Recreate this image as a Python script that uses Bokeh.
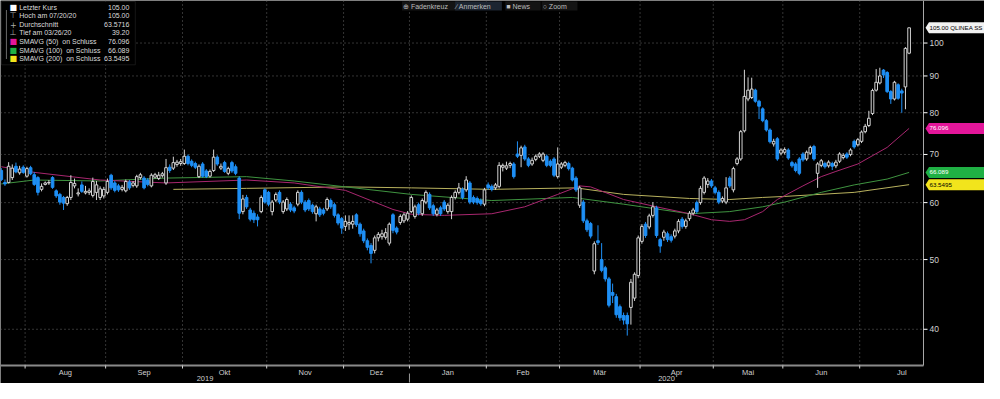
import math
import pandas as pd
from bokeh.plotting import figure
from bokeh.models import Range1d, Label, BoxAnnotation, ColumnDataSource
from bokeh.core.properties import value
from bokeh.embed import file_html
from bokeh.resources import INLINE

# ---------------- data ----------------
first_day = "2019-07-23"
calendar_end = "2020-07-31"
holidays = ["2019-12-24", "2019-12-25", "2019-12-26", "2019-12-31", "2020-01-01", "2020-01-06",
            "2020-04-10", "2020-04-13", "2020-05-01", "2020-05-21", "2020-06-19"]

opens = [66.5, 64.0, 64.0, 65.0, 67.4, 66.0, 67.2, 65.3, 67.1, 65.6,
         65.0, 62.6, 63.6, 63.9, 65.0, 62.3, 61.6, 61.0, 59.8, 61.0,
         63.3, 61.7, 63.5, 61.9, 62.0, 61.4, 62.0, 61.0, 61.3, 62.0,
         65.5, 63.9, 63.3, 62.6, 62.3, 64.1, 63.4, 63.3, 65.0, 64.9,
         64.5, 63.3, 65.1, 64.8, 65.4, 63.9, 67.2, 67.0, 67.8, 68.0,
         68.0, 69.6, 68.5, 68.0, 65.2, 67.9, 66.4, 65.3, 66.5, 69.4,
         67.0, 68.2, 65.9, 68.2, 67.3, 64.9, 58.3, 61.0, 58.6, 58.0,
         57.3, 58.3, 62.5, 62.0, 58.3, 60.5, 62.0, 58.3, 58.8, 59.7,
         59.0, 59.7, 62.0, 60.1, 60.4, 59.5, 57.9, 58.8, 58.6, 58.8,
         60.4, 59.6, 57.7, 57.0, 55.6, 56.0, 56.0, 57.7, 56.0, 54.8,
         53.1, 52.3, 51.5, 53.6, 53.8, 53.7, 52.7, 57.7, 55.3, 56.3,
         56.6, 56.9, 58.3, 57.4, 59.6, 57.9, 60.1, 61.6, 59.4, 57.8,
         59.0, 60.1, 58.3, 58.3, 61.0, 62.0, 62.6, 62.5, 63.9, 61.0,
         60.8, 60.4, 59.7, 63.5, 63.2, 62.9, 63.2, 67.2, 67.0, 67.6,
         67.9, 70.1, 69.8, 71.7, 69.0, 67.9, 68.9, 69.6, 68.7, 69.6,
         68.5, 69.0, 65.2, 67.2, 67.6, 68.0, 67.0, 64.9, 59.5, 60.1,
         56.6, 56.1, 48.2, 53.1, 50.0, 48.7, 47.0, 45.0, 44.4, 43.0,
         41.8, 41.8, 42.9, 44.2, 47.5, 53.0, 56.0, 55.5, 57.6, 59.0,
         53.3, 53.7, 54.3, 53.8, 53.9, 54.8, 56.9, 55.6, 57.0, 58.0,
         60.0, 60.0, 62.0, 63.6, 64.3, 62.9, 62.0, 60.3, 60.1, 64.9,
         62.5, 68.0, 69.0, 75.5, 83.6, 84.0, 86.0, 83.0, 81.0, 78.0,
         75.7, 72.4, 73.6, 70.3, 70.5, 71.0, 68.2, 67.9, 69.0, 70.1,
         69.0, 70.3, 71.8, 65.9, 67.6, 68.0, 67.5, 68.0, 67.5, 68.5,
         69.3, 70.1, 70.0, 73.0, 72.2, 73.0, 75.3, 76.8, 79.8, 86.0,
         88.0, 91.7, 91.0, 85.6, 83.6, 87.5, 85.8, 86.9, 96.8]

highs = [67.0, 64.6, 68.3, 67.8, 68.2, 67.5, 67.6, 67.3, 67.5, 66.2,
         65.3, 63.8, 64.2, 64.5, 65.3, 62.6, 61.9, 61.3, 61.3, 65.5,
         64.8, 62.8, 64.2, 63.3, 62.8, 65.0, 64.3, 63.2, 63.1, 64.8,
         65.8, 64.3, 63.7, 63.5, 64.6, 64.5, 64.3, 65.6, 66.0, 65.3,
         64.9, 65.9, 66.0, 66.2, 66.2, 69.0, 67.8, 69.5, 68.8, 69.0,
         71.1, 70.0, 68.9, 68.4, 67.8, 68.3, 66.8, 66.7, 71.1, 69.8,
         68.0, 68.6, 67.3, 68.6, 67.8, 65.3, 61.5, 61.5, 59.0, 58.5,
         57.8, 61.4, 62.8, 62.3, 60.5, 62.0, 62.4, 60.5, 61.0, 60.1,
         59.4, 62.4, 62.4, 60.5, 60.8, 59.8, 59.6, 59.2, 59.0, 61.0,
         60.8, 60.0, 58.0, 57.3, 57.6, 57.6, 57.6, 58.0, 56.3, 55.2,
         53.5, 52.7, 54.0, 54.6, 55.0, 55.3, 56.3, 58.0, 55.6, 57.8,
         58.1, 58.4, 61.4, 59.6, 60.0, 60.8, 62.4, 62.0, 59.8, 59.0,
         59.4, 60.5, 59.9, 61.4, 62.4, 63.9, 63.0, 65.3, 64.3, 61.4,
         61.2, 60.8, 62.9, 64.0, 63.6, 63.9, 68.3, 68.0, 68.4, 68.4,
         68.3, 73.0, 72.0, 72.2, 69.4, 69.3, 70.0, 70.5, 70.5, 70.0,
         68.9, 69.4, 71.6, 68.3, 68.6, 68.4, 67.3, 65.3, 63.3, 60.5,
         57.0, 56.4, 53.0, 55.8, 52.7, 49.0, 47.3, 46.3, 44.8, 43.3,
         42.2, 42.2, 47.0, 48.0, 54.0, 56.0, 56.4, 57.9, 60.1, 59.4,
         53.6, 55.0, 54.7, 54.2, 55.2, 56.9, 57.3, 57.0, 58.4, 59.0,
         60.4, 63.3, 65.3, 64.9, 64.7, 63.3, 62.4, 61.2, 65.1, 65.3,
         67.3, 69.4, 75.7, 91.8, 89.6, 89.5, 86.4, 83.4, 81.4, 78.4,
         76.1, 73.6, 74.0, 71.4, 71.6, 71.4, 68.6, 68.3, 69.4, 70.5,
         70.9, 72.0, 72.2, 68.3, 69.0, 68.4, 68.7, 68.4, 68.8, 70.5,
         70.3, 70.5, 71.4, 73.4, 73.8, 75.6, 77.2, 80.5, 86.4, 92.0,
         92.4, 92.0, 91.4, 86.0, 88.6, 87.9, 86.4, 98.7, 105.0]

lows = [64.3, 63.3, 63.8, 64.5, 65.9, 65.6, 65.8, 65.0, 65.5, 63.3,
        61.4, 62.2, 63.4, 63.5, 62.7, 60.9, 59.6, 58.6, 59.4, 60.5,
        62.8, 61.2, 61.9, 61.6, 61.5, 61.0, 60.5, 60.5, 60.8, 61.6,
        62.5, 62.0, 62.1, 62.2, 62.0, 62.5, 63.0, 62.9, 64.6, 62.6,
        63.2, 63.0, 64.8, 64.5, 65.0, 63.5, 66.0, 66.6, 67.3, 67.5,
        67.7, 67.6, 67.2, 66.8, 64.9, 65.0, 64.9, 65.0, 66.2, 67.5,
        66.6, 66.0, 65.5, 66.0, 65.5, 56.9, 57.8, 58.8, 56.5, 56.2,
        55.6, 58.0, 59.8, 59.3, 57.6, 60.1, 59.7, 57.9, 58.4, 58.2,
        58.0, 59.3, 59.7, 58.2, 58.4, 57.9, 56.5, 57.3, 57.6, 58.4,
        58.8, 57.2, 55.8, 54.3, 54.8, 55.0, 55.2, 55.5, 53.8, 52.7,
        51.5, 49.4, 51.0, 53.0, 53.3, 53.3, 52.3, 54.4, 54.2, 55.9,
        56.2, 56.5, 58.0, 57.0, 57.6, 57.5, 59.7, 58.6, 57.5, 57.4,
        57.5, 58.4, 57.9, 56.9, 60.6, 61.6, 60.6, 62.1, 59.7, 59.7,
        59.6, 59.4, 59.3, 62.5, 62.2, 62.5, 62.8, 66.3, 66.6, 67.0,
        64.8, 69.2, 67.2, 68.6, 67.2, 67.5, 68.5, 69.2, 68.3, 67.2,
        67.2, 65.1, 64.8, 66.8, 67.2, 66.5, 64.2, 62.1, 59.0, 56.2,
        54.6, 53.5, 47.7, 52.4, 48.0, 46.6, 42.9, 43.5, 41.5, 41.1,
        40.6, 39.2, 40.6, 43.8, 47.1, 52.6, 53.6, 55.1, 57.2, 53.6,
        51.1, 53.1, 52.9, 52.8, 53.5, 54.4, 55.2, 55.2, 56.6, 57.6,
        57.9, 59.6, 61.6, 62.9, 62.9, 61.6, 59.7, 59.9, 59.7, 62.9,
        62.0, 67.6, 68.6, 75.1, 83.0, 83.6, 82.6, 78.4, 77.6, 75.3,
        72.5, 71.8, 68.6, 69.8, 70.0, 68.8, 67.1, 66.1, 65.5, 68.4,
        68.6, 69.9, 68.6, 62.9, 67.2, 66.9, 67.1, 66.6, 67.0, 68.1,
        68.9, 69.0, 69.6, 71.3, 71.8, 72.6, 74.9, 76.4, 79.4, 85.6,
        87.6, 89.4, 85.2, 82.3, 83.2, 83.4, 80.0, 80.9, 96.5]

closes = [64.6, 63.7, 67.4, 67.0, 66.2, 66.8, 66.1, 66.9, 65.8, 63.6,
          62.0, 63.2, 63.9, 64.0, 63.0, 61.3, 60.1, 59.9, 61.0, 64.0,
          63.8, 61.9, 62.2, 62.2, 62.3, 64.2, 63.5, 62.7, 62.6, 64.2,
          62.9, 62.4, 62.5, 63.0, 64.2, 62.9, 63.9, 65.2, 65.6, 62.9,
          63.6, 65.5, 65.6, 65.5, 65.8, 67.1, 66.5, 68.2, 68.3, 68.4,
          69.6, 68.0, 67.6, 67.2, 67.4, 65.3, 65.2, 66.3, 69.4, 67.9,
          67.4, 66.3, 66.9, 66.4, 65.9, 58.0, 60.7, 59.2, 56.9, 56.8,
          56.8, 61.0, 60.1, 59.7, 60.1, 61.6, 60.1, 60.1, 60.6, 58.6,
          58.4, 62.0, 60.1, 58.6, 58.8, 58.3, 59.2, 57.7, 58.0, 60.6,
          59.2, 57.6, 56.2, 55.3, 56.5, 56.3, 56.5, 55.9, 54.3, 53.1,
          52.0, 51.0, 53.6, 54.2, 54.3, 54.5, 56.0, 54.9, 54.6, 57.4,
          57.7, 58.0, 61.0, 59.2, 58.0, 60.4, 62.0, 59.0, 57.9, 58.6,
          57.9, 58.8, 59.5, 61.0, 62.0, 62.9, 61.0, 64.5, 60.1, 60.1,
          60.0, 59.8, 62.5, 62.9, 62.6, 63.5, 67.6, 67.6, 67.5, 68.0,
          65.2, 69.6, 71.5, 69.0, 67.6, 68.7, 69.6, 70.1, 70.1, 67.6,
          67.6, 65.5, 67.9, 67.9, 68.2, 66.9, 64.5, 62.5, 62.9, 56.6,
          55.0, 53.9, 52.6, 52.8, 48.3, 47.0, 43.2, 44.6, 41.9, 41.5,
          41.2, 40.7, 46.5, 47.7, 53.6, 55.6, 54.0, 57.5, 59.2, 54.0,
          52.2, 54.6, 53.3, 53.2, 54.8, 56.5, 55.6, 56.6, 58.0, 58.6,
          58.3, 62.8, 64.9, 64.3, 63.3, 62.0, 60.1, 60.8, 62.9, 63.3,
          66.9, 69.0, 75.3, 84.3, 86.0, 86.3, 83.0, 81.7, 78.0, 75.7,
          72.9, 73.0, 69.0, 71.0, 71.1, 69.2, 67.5, 66.5, 65.9, 68.8,
          70.5, 71.6, 69.0, 67.9, 68.6, 67.3, 68.3, 67.4, 68.3, 70.1,
          69.8, 69.4, 71.0, 71.7, 73.4, 75.2, 76.6, 78.6, 85.9, 88.2,
          90.0, 90.3, 85.6, 83.6, 88.2, 83.8, 85.2, 98.3, 105.0]

# moving averages (trading-day index, value)
sma50_idx = [0, 9, 27, 45, 67, 80, 94, 107, 112, 121, 134, 143, 152, 158, 161, 170, 179,
             188, 194, 199, 203, 208, 212, 219, 224, 228, 234, 242, 248]
sma50_val = [67.3, 66.1, 64.5, 63.9, 64.5, 63.9, 62.4, 58.7, 57.8, 57.6, 57.9, 59.2, 61.6,
             63.3, 63.1, 60.6, 59.2, 57.9, 56.8, 56.5, 56.8, 58.3, 60.6, 63.3, 65.2, 66.3,
             67.9, 71.6, 76.096]
sma100_idx = [0, 9, 27, 45, 67, 80, 94, 112, 134, 156, 170, 188, 199, 208, 214, 224, 233, 242, 248]
sma100_val = [63.7, 64.5, 64.3, 64.9, 65.2, 64.3, 63.1, 61.6, 60.4, 61.0, 59.7, 57.9, 58.3,
              59.2, 60.1, 62.0, 63.5, 64.7, 66.089]
sma200_idx = [47, 67, 94, 112, 134, 157, 170, 188, 199, 208, 214, 233, 248]
sma200_val = [62.6, 62.8, 63.1, 62.9, 62.6, 62.9, 61.6, 60.8, 60.6, 61.0, 61.2, 62.0, 63.5495]

month_names = {1: "Jan", 2: "Feb", 3: "Mär", 4: "Apr", 5: "Mai", 6: "Jun",
               7: "Jul", 8: "Aug", 9: "Sep", 10: "Okt", 11: "Nov", 12: "Dez"}
y_ticks = [40, 50, 60, 70, 80, 90, 100]

ticker_name = "QLINEA SS"
legend_rows = [("Letzter Kurs", "105.00"), ("Hoch am 07/20/20", "105.00"),
               ("Durchschnitt", "63.5716"), ("Tief am 03/26/20", "39.20"),
               ("SMAVG (50)\u00a0 on Schluss", "76.096"),
               ("SMAVG (100)\u00a0 on Schluss", "66.089"),
               ("SMAVG (200)\u00a0 on Schluss", "63.5495")]
toolbar_items = ["⊕ Fadenkreuz", "∕ Anmerken", "■ News", "○ Zoom"]

# ---------------- calendar helpers ----------------
cal = [d for d in pd.bdate_range(first_day, calendar_end) if d.strftime("%Y-%m-%d") not in holidays]
n = len(closes)
idx = list(range(n))

bounds, seg_month, seg_year = [], [], []
for k in range(1, len(cal)):
    if cal[k].month != cal[k - 1].month:
        bounds.append(k - 0.5)
        seg_month.append(cal[k].month)
bounds_all = bounds + [len(cal) - 0.5]
jan_bound = [b for b, mo in zip(bounds, seg_month) if mo == 1][0]
years = [cal[0].year, cal[-1].year]

# ---------------- layout (pixels) ----------------
W, H = 984, 383
SX, SY = W / 1000.0, H / 399.0
PLOT_W = round(938 * SX)          # width of the price area
PLOT_H = round(380 * SY)          # height of the price area

X0, X1 = -0.22, 251.93            # price-area x extent (trading-day index)
Y0, Y1 = 35.62, 114.59            # price-area y extent
PX = (X1 - X0) / PLOT_W           # index units per pixel
KY = math.log(Y1 / Y0) / PLOT_H   # log units per pixel
XE = X0 + PX * W                  # canvas extends over the price scale strip
YB = Y0 * math.exp(-KY * (H - PLOT_H))   # and over the date rows


def cx(rx):
    return rx * SX


def py(ry):
    # vertical position (reference pixels from top) expressed as a price
    return Y1 * math.exp(-ry * SY * KY)


def below(px):
    # a price that sits px pixels below the date axis
    return Y0 * math.exp(-px * KY)


p = figure(width=W, height=H, x_range=Range1d(X0, XE), y_range=Range1d(YB, Y1),
           y_axis_type="log", x_axis_location=None, y_axis_location=None,
           output_backend="svg", toolbar_location=None,
           background_fill_color="black", border_fill_color="black",
           outline_line_color=None, min_border=0)
p.xgrid.grid_line_color = None
p.ygrid.grid_line_color = None

FONT = value("Liberation Sans")

# ---------------- grid ----------------
p.segment(x0=bounds, y0=[Y0] * len(bounds), x1=bounds, y1=[Y1] * len(bounds),
          line_color="#676767", line_dash="1 3", line_width=1)
p.segment(x0=[X0] * len(y_ticks), y0=y_ticks, x1=[X1] * len(y_ticks), y1=y_ticks,
          line_color="#676767", line_dash="1 3", line_width=1)

# ---------------- date scale ----------------
p.segment(x0=[X0], y0=[Y0], x1=[X1], y1=[Y0], line_color="#8a8a8a", line_width=2)
p.ray(x=bounds, y=[Y0] * len(bounds), length=3, length_units="screen", angle=-math.pi / 2,
      line_color="#d0d0d0", line_width=1)
mids = [(bounds_all[j] + bounds_all[j + 1]) / 2.0 for j in range(len(seg_month))]
p.text(x=mids, y=[Y0] * len(mids), text=[month_names[m] for m in seg_month],
       y_offset=2, text_baseline="top", text_align="center", text_font=FONT,
       text_font_size="7.5px", text_color="#cfcfcf")
year_x = [(X0 + jan_bound) / 2.0, (jan_bound + X1) / 2.0]
p.text(x=year_x, y=[Y0] * 2, text=[str(y) for y in years], y_offset=10.5,
       text_baseline="top", text_align="center", text_font=FONT,
       text_font_size="7.5px", text_color="#cfcfcf")
p.segment(x0=[jan_bound], y0=[below(8)], x1=[jan_bound], y1=[below(17)],
          line_color="#9a9a9a", line_width=1)

# ---------------- price scale ----------------
p.segment(x0=[X1], y0=[Y0], x1=[X1], y1=[Y1], line_color="#a8a8a8", line_width=1)
p.ray(x=[X1] * len(y_ticks), y=y_ticks, length=4, length_units="screen", angle=0,
      line_color="white", line_width=1)
p.text(x=[X1] * len(y_ticks), y=y_ticks, text=[str(t) for t in y_ticks], x_offset=6,
       text_baseline="middle", text_align="left", text_font=FONT,
       text_font_size="8.5px", text_color="#d0d0d0")

# ---------------- moving averages ----------------
p.line(sma200_idx, sma200_val, line_color="#b9b25e", line_width=1)
p.line(sma100_idx, sma100_val, line_color="#3f9440", line_width=1)
p.line(sma50_idx, sma50_val, line_color="#a8276f", line_width=1)

# ---------------- candles ----------------
UP, DOWN = "#d4d4d4", "#1e8ff5"
up = [c >= o for o, c in zip(opens, closes)]
src = ColumnDataSource(dict(
    x=idx, o=opens, h=highs, l=lows, c=closes,
    top=[max(o, c) for o, c in zip(opens, closes)],
    bot=[min(o, c) for o, c in zip(opens, closes)],
    lc=[UP if u else DOWN for u in up],
    fc=["black" if u else DOWN for u in up]))
p.segment(x0="x", y0="l", x1="x", y1="h", line_color="lc", line_width=1, source=src)
p.vbar(x="x", width=0.72, top="top", bottom="bot", fill_color="fc", line_color="lc",
       line_width=1, source=src)

# ---------------- value tags on the price scale ----------------
tag_vals = [closes[-1], sma50_val[-1], sma100_val[-1], sma200_val[-1]]
tag_txt = [f"{closes[-1]:.2f} {ticker_name}", legend_rows[4][1], legend_rows[5][1],
           legend_rows[6][1]]
tag_bg = ["#f2f2f2", "#e3169a", "#1fb044", "#f2e41c"]
tag_fg = ["black", "white", "white", "black"]
half = math.exp(5.5 * KY)
tip, body = X1 + 2 * PX, X1 + 5.5 * PX
p.patches(xs=[[tip, body, XE, XE, body] for _ in tag_vals],
          ys=[[v, v * half, v * half, v / half, v / half] for v in tag_vals],
          fill_color=tag_bg, line_color=None)
p.text(x=[X1] * 4, y=tag_vals, text=tag_txt, x_offset=6, text_baseline="middle",
       text_align="left", text_font=FONT, text_font_size="6.2px", text_color=tag_fg)

# ---------------- legend box ----------------
p.add_layout(BoxAnnotation(left=cx(1), right=cx(137), top=py(1), bottom=py(67),
                           left_units="screen", right_units="screen",
                           fill_color="black", fill_alpha=1.0,
                           line_color="#4a4a4a", line_width=1))
p.add_layout(BoxAnnotation(left=cx(5.5), right=cx(5.5) + 1, top=py(10), bottom=py(61),
                           left_units="screen", right_units="screen",
                           fill_color="#6a6a6a", fill_alpha=1.0, line_color=None))
row_y = [7.3, 16.0, 25.0, 33.3, 42.7, 51.7, 60.7]
icons = [("■", "#ffffff"), ("⊤", "#aaaaaa"), ("+", "#aaaaaa"), ("⊥", "#aaaaaa"),
         ("■", "#e3169a"), ("■", "#1fb044"), ("■", "#f2e41c")]
for (name, val), ry, (ic, icc) in zip(legend_rows, row_y, icons):
    p.add_layout(Label(x=cx(13), y=py(ry), x_units="screen", text=ic,
                       text_align="center", text_baseline="middle", text_font="DejaVu Sans",
                       text_font_size="8px", text_color=icc))
    p.add_layout(Label(x=cx(19), y=py(ry), x_units="screen", text=name,
                       text_align="left", text_baseline="middle", text_font="Liberation Sans",
                       text_font_size="7px", text_color="#dcdcdc"))
    p.add_layout(Label(x=cx(131), y=py(ry), x_units="screen", text=val,
                       text_align="right", text_baseline="middle", text_font="Liberation Sans",
                       text_font_size="7px", text_color="#dcdcdc"))

# ---------------- top toolbar ----------------
tb_x = [408, 462, 513, 550]
tb_bg = ["#141414", "#1c2531", "#141414", "#141414"]
for t, rx, bg in zip(toolbar_items, tb_x, tb_bg):
    p.add_layout(Label(x=cx(rx), y=py(5.8), x_units="screen",
                       text="  " + t + "   ", text_align="left", text_baseline="middle",
                       text_font="Liberation Sans", text_font_size="7px",
                       text_color="#bdbdbd", background_fill_color=bg, padding=1))

open("out.html", "w").write(file_html(p, INLINE))
